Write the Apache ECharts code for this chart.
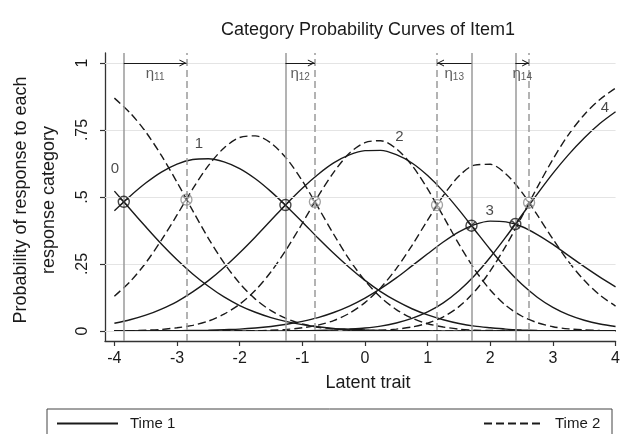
<!DOCTYPE html>
<html>
<head>
<meta charset="utf-8">
<script src="https://cdn.jsdelivr.net/npm/echarts@6/dist/echarts.min.js"></script>
<style>html,body{margin:0;padding:0;background:#fff;}#c{width:623px;height:434px;}</style>
</head>
<body>
<div id="c"></div>
<script>
// ---- data ----
const theta = [-4,-3.75,-3.5,-3.25,-3,-2.75,-2.5,-2.25,-2,-1.75,-1.5,-1.25,-1,-0.75,-0.5,-0.25,
               0,0.25,0.5,0.75,1,1.25,1.5,1.75,2,2.25,2.5,2.75,3,3.25,3.5,3.75,4];
const xTicks = [-4,-3,-2,-1,0,1,2,3,4];
const yTicks = [0,0.25,0.5,0.75,1];

// Time 1 (solid) category curves
const t1c0 = [0.522,0.455,0.389,0.325,0.266,0.213,0.167,0.127,0.095,0.070,0.050,0.035,0.024,0.016,0.010,0.007,
              0.004,0.002,0.001,0.001,0.001,0.000,0.000,0.000,0.000,0.000,0.000,0.000,0.000,0.000,0.000,0.000,0.000];
const t1c1 = [0.449,0.503,0.552,0.593,0.623,0.640,0.643,0.631,0.606,0.568,0.520,0.465,0.407,0.347,0.290,0.237,
              0.189,0.147,0.112,0.083,0.060,0.042,0.028,0.018,0.012,0.007,0.004,0.002,0.001,0.001,0.000,0.000,0.000];
const t1c2 = [0.029,0.042,0.059,0.082,0.110,0.146,0.188,0.237,0.292,0.351,0.413,0.475,0.533,0.584,0.627,0.657,
              0.673,0.674,0.658,0.627,0.580,0.521,0.452,0.378,0.304,0.235,0.175,0.126,0.088,0.060,0.040,0.026,0.017];
const t1c3 = [0.000,0.000,0.000,0.001,0.001,0.002,0.003,0.005,0.007,0.011,0.017,0.025,0.036,0.050,0.069,0.093,
              0.123,0.158,0.198,0.243,0.288,0.332,0.370,0.397,0.410,0.407,0.390,0.360,0.323,0.281,0.240,0.201,0.165];
const t1c4 = [0.000,0.000,0.000,0.000,0.000,0.000,0.000,0.000,0.000,0.000,0.000,0.001,0.001,0.002,0.004,0.007,
              0.011,0.018,0.030,0.047,0.071,0.105,0.150,0.207,0.275,0.351,0.431,0.511,0.588,0.658,0.720,0.774,0.818];

// Time 2 (dashed) category curves
const t2c0 = [0.869,0.814,0.743,0.655,0.555,0.449,0.346,0.254,0.178,0.119,0.076,0.046,0.026,0.014,0.008,0.004,
              0.002,0.001,0.000,0.000,0.000,0.000,0.000,0.000,0.000,0.000,0.000,0.000,0.000,0.000,0.000,0.000,0.000];
const t2c1 = [0.130,0.184,0.254,0.339,0.433,0.530,0.617,0.683,0.722,0.728,0.701,0.643,0.560,0.462,0.361,0.267,
              0.188,0.126,0.080,0.048,0.027,0.015,0.007,0.003,0.002,0.001,0.000,0.000,0.000,0.000,0.000,0.000,0.000];
const t2c2 = [0.001,0.001,0.003,0.006,0.012,0.021,0.037,0.063,0.100,0.152,0.221,0.306,0.402,0.502,0.592,0.663,
              0.703,0.710,0.680,0.618,0.530,0.428,0.324,0.230,0.153,0.095,0.056,0.031,0.016,0.008,0.004,0.002,0.001];
const t2c3 = [0.000,0.000,0.000,0.000,0.000,0.000,0.000,0.000,0.001,0.001,0.003,0.006,0.012,0.022,0.039,0.066,
              0.106,0.161,0.233,0.319,0.414,0.505,0.578,0.619,0.622,0.586,0.519,0.433,0.343,0.259,0.189,0.134,0.093];
const t2c4 = [0.000,0.000,0.000,0.000,0.000,0.000,0.000,0.000,0.000,0.000,0.000,0.000,0.000,0.000,0.000,0.001,
              0.001,0.003,0.007,0.015,0.029,0.053,0.091,0.147,0.224,0.318,0.425,0.536,0.641,0.733,0.807,0.864,0.906];

// thresholds (intersections of adjacent categories)
const t1Thr = [-3.85,-1.27,1.70,2.40];
const t1Cross = [0.482,0.470,0.393,0.399];
const t2Thr = [-2.85,-0.80,1.15,2.62];
const t2Cross = [0.490,0.482,0.470,0.479];
const etaLabels = ['11','12','13','14'];

// category labels on the curves
const catNames = ['0','1','2','3','4'];
const catX = [-3.99,-2.65,0.55,1.99,3.83];
const catY = [0.604,0.700,0.725,0.450,0.833];

// ---- chart ----
const FONT = 'Liberation Sans, Arial, sans-serif';
const INK = '#1a1a1a';
const chart = echarts.init(document.getElementById('c'), null, {renderer:'canvas'});

function curve(name, vals, dashed){
  return {
    type:'line', name:name,
    data: theta.map((x,i)=>[x, vals[i]]),
    smooth: 0.3, symbol:'none', silent:true, z:4,
    lineStyle:{color:INK, width:1.4, type: dashed ? [8,4] : 'solid'},
    itemStyle:{color:INK}
  };
}

const markerPath = 'path://M10,0 A10,10 0 1,1 10,20 A10,10 0 1,1 10,0 Z M2.93,2.93 L17.07,17.07 M17.07,2.93 L2.93,17.07';
const arrowPath = 'path://M5,0 L5,0.01 M5,10 L10,20 L8.4,20 L5,13.2 L1.6,20 L0,20 Z';

const series = [
  // horizontal gridlines
  {type:'scatter', data:[], silent:true, z:1,
   markLine:{silent:true, symbol:['none','none'], label:{show:false}, animation:false,
     lineStyle:{color:'#e4e4e4', width:1, type:'solid'},
     data: yTicks.map(v=>({yAxis:v}))}},
  // vertical threshold lines, time 1
  {type:'scatter', data:[], silent:true, z:2,
   markLine:{silent:true, symbol:['none','none'], label:{show:false}, animation:false,
     lineStyle:{color:'#9a9a9a', width:1.5, type:'solid'},
     data: t1Thr.map(v=>({xAxis:v}))}},
  // vertical threshold lines, time 2
  {type:'scatter', data:[], silent:true, z:2,
   markLine:{silent:true, symbol:['none','none'], label:{show:false}, animation:false,
     lineStyle:{color:'#9a9a9a', width:1.5, type:[7,4]},
     data: t2Thr.map(v=>({xAxis:v}))}},
  curve('Time 1', t1c0, false), curve('Time 1', t1c1, false), curve('Time 1', t1c2, false),
  curve('Time 1', t1c3, false), curve('Time 1', t1c4, false),
  curve('Time 2', t2c0, true), curve('Time 2', t2c1, true), curve('Time 2', t2c2, true),
  curve('Time 2', t2c3, true), curve('Time 2', t2c4, true),
  // arrows eta
  {type:'scatter', silent:true, z:5, symbolSize:0,
   data: t1Thr.map((v,i)=>({value:[(v+t2Thr[i])/2, 1], eta:etaLabels[i]})),
   label:{show:true, position:'bottom', distance:3,
     formatter: p => '{e|η}{s|' + p.data.eta + '}',
     rich:{e:{fontSize:15, fontFamily:FONT, color:'#333', verticalAlign:'bottom'},
           s:{fontSize:10, fontFamily:FONT, color:'#333', verticalAlign:'bottom', padding:[0,0,-1,0]}}},
   markLine:{silent:true, symbol:['none', arrowPath], symbolSize:[7,14], label:{show:false}, animation:false,
     lineStyle:{color:INK, width:1, type:'solid'},
     data: t1Thr.map((v,i)=>[{coord:[v,1]},{coord:[t2Thr[i],1]}])}},
  // markers time 2 (grey)
  {type:'scatter', silent:true, z:6, symbol:markerPath, symbolSize:11,
   data: t2Thr.map((v,i)=>[v, t2Cross[i]]),
   itemStyle:{color:'rgba(0,0,0,0)', borderColor:'#8a8a8a', borderWidth:1.3}},
  // markers time 1 (black)
  {type:'scatter', silent:true, z:6, symbol:markerPath, symbolSize:11,
   data: t1Thr.map((v,i)=>[v, t1Cross[i]]),
   itemStyle:{color:'rgba(0,0,0,0)', borderColor:INK, borderWidth:1.4}},
  // category labels
  {type:'scatter', silent:true, z:7, symbolSize:0,
   data: catNames.map((n,i)=>({value:[catX[i], catY[i]], name:n})),
   label:{show:true, position:'inside', formatter: p=>p.name, fontSize:15, fontFamily:FONT, color:INK}}
];

const option = {
  backgroundColor:'#ffffff',
  animation:false,
  grid:{left:105, right:1.3, top:53, bottom:93, containLabel:false},
  xAxis:{type:'value', min:-4.15, max:4,
    axisLine:{show:true, onZero:false, lineStyle:{color:'#333', width:1.3}},
    axisTick:{show:true, length:5, customValues:xTicks, lineStyle:{color:'#333', width:1.2}},
    axisLabel:{show:true, customValues:xTicks, margin:10, fontSize:16, fontFamily:FONT, color:INK,
      formatter: v => String(v)},
    splitLine:{show:false}},
  yAxis:{type:'value', min:-0.0373, max:1.0373,
    axisLine:{show:true, onZero:false, lineStyle:{color:'#333', width:1.3}},
    axisTick:{show:true, length:5, customValues:yTicks, lineStyle:{color:'#333', width:1.2}},
    axisLabel:{show:true, customValues:yTicks, rotate:90, margin:14, fontSize:16, fontFamily:FONT, color:INK,
      formatter: v => (v===0?'0':v===1?'1':String(v).replace(/^0\./,'.'))},
    splitLine:{show:false}},
  legend:[
    {data:['Time 1'], left:56, top:416, padding:0, itemWidth:61, itemHeight:14, selectedMode:false,
     itemStyle:{opacity:0},
     textStyle:{fontSize:15, fontFamily:FONT, color:INK, padding:[0,0,0,7]}},
    {data:['Time 2'], left:483, top:416, padding:0, itemWidth:60, itemHeight:14, selectedMode:false,
     itemStyle:{opacity:0},
     textStyle:{fontSize:15, fontFamily:FONT, color:INK, padding:[0,0,0,6]}}
  ],
  graphic:[
    {type:'text', x:368, y:30, silent:true,
     style:{text:'Category Probability Curves of Item1', fontSize:18, fontFamily:FONT, fill:INK, align:'center', verticalAlign:'middle'}},
    {type:'text', x:368, y:383, silent:true,
     style:{text:'Latent trait', fontSize:18, fontFamily:FONT, fill:INK, align:'center', verticalAlign:'middle'}},
    {type:'text', x:21, y:200, rotation:Math.PI/2, silent:true,
     style:{text:'Probability of response to each', fontSize:18, fontFamily:FONT, fill:INK, align:'center', verticalAlign:'middle'}},
    {type:'text', x:49, y:200, rotation:Math.PI/2, silent:true,
     style:{text:'response category', fontSize:18, fontFamily:FONT, fill:INK, align:'center', verticalAlign:'middle'}},
    {type:'rect', silent:true, z:-1, shape:{x:47, y:409, width:565, height:40},
     style:{fill:'none', stroke:'#444', lineWidth:1}}
  ],
  series: series
};
chart.setOption(option);
</script>
</body>
</html>
